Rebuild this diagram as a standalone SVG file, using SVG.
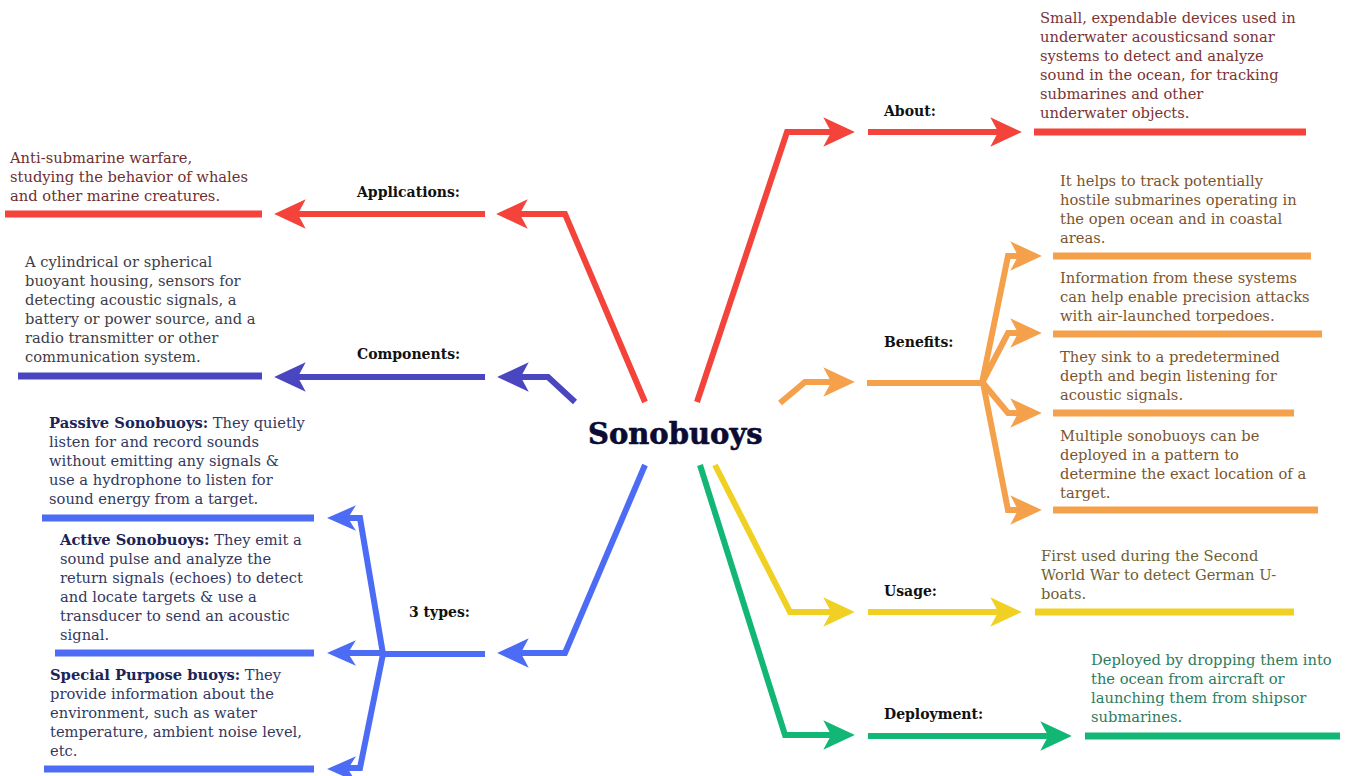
<svg xmlns="http://www.w3.org/2000/svg" xmlns:xlink="http://www.w3.org/1999/xlink" width="1349" height="776" viewBox="0 0 1349 776">
  <style>
    .ln { fill: none; stroke-width: 6; stroke-linejoin: miter; stroke-linecap: butt; }
    .ul { fill: none; stroke-width: 7; }
    .red { stroke: #f4433a; }
    .ind { stroke: #4a46c0; }
    .blu { stroke: #4c6cf6; }
    .org { stroke: #f5a04b; }
    .yel { stroke: #f0d123; }
    .grn { stroke: #12b775; }
    .lbl { font-family: "DejaVu Serif", "Liberation Serif", serif; font-weight: bold; font-size: 14px; fill: #111; }
    .txt { font-family: "DejaVu Serif", "Liberation Serif", serif; font-size: 14.7px; }
    .title { font-family: "DejaVu Serif", "Liberation Serif", serif; font-weight: bold; font-size: 29px; fill: #0c0c33; stroke: #0c0c33; stroke-width: 0.6; }
    .b { font-weight: bold; fill: #1c2456; }
    .hd { stroke-width: 1.5; stroke-linejoin: miter; }
  </style>
  <defs>
    <!-- barbed arrowhead, tip at origin, pointing right -->
    <path id="ah" d="M0,0 L-28,-13 L-21,0 L-28,13 Z"/>
    <path id="ahs" d="M0,0 L-25,-11 L-18,0 L-25,11 Z"/>
  </defs>

  <g id="connectors">
    <!-- About (red) -->
    <path class="ln red" d="M697,402 L787,132 L836,132"/>
    <use xlink:href="#ah" class="hd red" fill="#f4433a" transform="translate(853,132)"/>
    <path class="ln red" d="M868,132 L1000,132"/>
    <use xlink:href="#ah" class="hd red" fill="#f4433a" transform="translate(1020,132)"/>
    <path class="ul red" d="M1034,132 L1306,132"/>

    <!-- Applications (red) -->
    <path class="ln red" d="M645,402 L565,214 L514,214"/>
    <use xlink:href="#ah" class="hd red" fill="#f4433a" transform="translate(498,214) scale(-1,1)"/>
    <path class="ln red" d="M485,214 L294,214"/>
    <use xlink:href="#ah" class="hd red" fill="#f4433a" transform="translate(276,214) scale(-1,1)"/>
    <path class="ul red" d="M5,214 L262,214"/>

    <!-- Components (indigo) -->
    <path class="ln ind" d="M575,402 L548,377 L514,377"/>
    <use xlink:href="#ah" class="hd ind" fill="#4a46c0" transform="translate(499,377) scale(-1,1)"/>
    <path class="ln ind" d="M485,377 L294,377"/>
    <use xlink:href="#ah" class="hd ind" fill="#4a46c0" transform="translate(276,377) scale(-1,1)"/>
    <path class="ul ind" d="M18,376 L262,376"/>

    <!-- 3 types (blue) -->
    <path class="ln blu" d="M645,465 L565,653 L516,653"/>
    <use xlink:href="#ah" class="hd blu" fill="#4c6cf6" transform="translate(499,653) scale(-1,1)"/>
    <path class="ln blu" d="M485,654 L383,654"/>
    <path class="ln blu" d="M383,654 L360,518 L346,518"/>
    <use xlink:href="#ahs" class="hd blu" fill="#4c6cf6" transform="translate(329,518) scale(-1,1)"/>
    <path class="ln blu" d="M383,653 L346,653"/>
    <use xlink:href="#ahs" class="hd blu" fill="#4c6cf6" transform="translate(329,653) scale(-1,1)"/>
    <path class="ln blu" d="M383,654 L360,768 L346,768"/>
    <use xlink:href="#ahs" class="hd blu" fill="#4c6cf6" transform="translate(329,769) scale(-1,1)"/>
    <path class="ul blu" d="M42,518 L314,518"/>
    <path class="ul blu" d="M55,653 L314,653"/>
    <path class="ul blu" d="M44,769 L314,769"/>

    <!-- Benefits (orange) -->
    <path class="ln org" d="M780,403 L805,382 L836,382"/>
    <use xlink:href="#ah" class="hd org" fill="#f5a04b" transform="translate(853,382)"/>
    <path class="ln org" d="M867,383 L983,383"/>
    <path class="ln org" d="M982,383 L1008,256 L1024,256"/>
    <use xlink:href="#ah" class="hd org" fill="#f5a04b" transform="translate(1040,256)"/>
    <path class="ln org" d="M983,381 L1008,333 L1024,333"/>
    <use xlink:href="#ah" class="hd org" fill="#f5a04b" transform="translate(1040,333)"/>
    <path class="ln org" d="M983,383 L1008,413 L1024,413"/>
    <use xlink:href="#ah" class="hd org" fill="#f5a04b" transform="translate(1040,413)"/>
    <path class="ln org" d="M983,383 L1008,510 L1024,510"/>
    <use xlink:href="#ah" class="hd org" fill="#f5a04b" transform="translate(1040,510)"/>
    <path class="ul org" d="M1053,256 L1311,256"/>
    <path class="ul org" d="M1053,334 L1322,334"/>
    <path class="ul org" d="M1053,413 L1294,413"/>
    <path class="ul org" d="M1053,510 L1318,510"/>

    <!-- Usage (yellow) -->
    <path class="ln yel" d="M715,465 L790,612 L836,612"/>
    <use xlink:href="#ah" class="hd yel" fill="#f0d123" transform="translate(853,612)"/>
    <path class="ln yel" d="M868,612 L1000,612"/>
    <use xlink:href="#ah" class="hd yel" fill="#f0d123" transform="translate(1020,612)"/>
    <path class="ul yel" d="M1035,612 L1294,612"/>

    <!-- Deployment (green) -->
    <path class="ln grn" d="M700,465 L785,735 L836,735"/>
    <use xlink:href="#ah" class="hd grn" fill="#12b775" transform="translate(853,735)"/>
    <path class="ln grn" d="M868,736 L1052,736"/>
    <use xlink:href="#ah" class="hd grn" fill="#12b775" transform="translate(1070,736)"/>
    <path class="ul grn" d="M1085,736 L1340,736"/>
  </g>

  <g id="title">
    <text class="title" x="588" y="444">Sonobuoys</text>
  </g>

  <g id="about">
    <text class="lbl" x="884" y="116">About:</text>
    <text class="txt" fill="#7a3434">
      <tspan x="1040" y="23">Small, expendable devices used in</tspan>
      <tspan x="1040" y="42">underwater acousticsand sonar</tspan>
      <tspan x="1040" y="61">systems to detect and analyze</tspan>
      <tspan x="1040" y="80">sound in the ocean, for tracking</tspan>
      <tspan x="1040" y="99">submarines and other</tspan>
      <tspan x="1040" y="118">underwater objects.</tspan>
    </text>
  </g>

  <g id="applications">
    <text class="lbl" x="357" y="197">Applications:</text>
    <text class="txt" fill="#6e2f2f">
      <tspan x="10" y="163">Anti-submarine warfare,</tspan>
      <tspan x="10" y="182">studying the behavior of whales</tspan>
      <tspan x="10" y="201">and other marine creatures.</tspan>
    </text>
  </g>

  <g id="components">
    <text class="lbl" x="357" y="359">Components:</text>
    <text class="txt" fill="#3d3d48">
      <tspan x="25" y="267">A cylindrical or spherical</tspan>
      <tspan x="25" y="286">buoyant housing, sensors for</tspan>
      <tspan x="25" y="305">detecting acoustic signals, a</tspan>
      <tspan x="25" y="324">battery or power source, and a</tspan>
      <tspan x="25" y="343">radio transmitter or other</tspan>
      <tspan x="25" y="362">communication system.</tspan>
    </text>
  </g>

  <g id="types">
    <text class="lbl" x="409" y="617">3 types:</text>
    <text class="txt" fill="#33385e">
      <tspan x="49" y="428"><tspan class="b">Passive Sonobuoys:</tspan> They quietly</tspan>
      <tspan x="49" y="447">listen for and record sounds</tspan>
      <tspan x="49" y="466">without emitting any signals &amp;</tspan>
      <tspan x="49" y="485">use a hydrophone to listen for</tspan>
      <tspan x="49" y="504">sound energy from a target.</tspan>
    </text>
    <text class="txt" fill="#33385e">
      <tspan x="60" y="545"><tspan class="b">Active Sonobuoys:</tspan> They emit a</tspan>
      <tspan x="60" y="564">sound pulse and analyze the</tspan>
      <tspan x="60" y="583">return signals (echoes) to detect</tspan>
      <tspan x="60" y="602">and locate targets &amp; use a</tspan>
      <tspan x="60" y="621">transducer to send an acoustic</tspan>
      <tspan x="60" y="640">signal.</tspan>
    </text>
    <text class="txt" fill="#33385e">
      <tspan x="50" y="680"><tspan class="b">Special Purpose buoys:</tspan> They</tspan>
      <tspan x="50" y="699">provide information about the</tspan>
      <tspan x="50" y="718">environment, such as water</tspan>
      <tspan x="50" y="737">temperature, ambient noise level,</tspan>
      <tspan x="50" y="756">etc.</tspan>
    </text>
  </g>

  <g id="benefits">
    <text class="lbl" x="884" y="347">Benefits:</text>
    <text class="txt" fill="#7a5530">
      <tspan x="1060" y="186">It helps to track potentially</tspan>
      <tspan x="1060" y="205">hostile submarines operating in</tspan>
      <tspan x="1060" y="224">the open ocean and in coastal</tspan>
      <tspan x="1060" y="243">areas.</tspan>
    </text>
    <text class="txt" fill="#7a5530">
      <tspan x="1060" y="283">Information from these systems</tspan>
      <tspan x="1060" y="302">can help enable precision attacks</tspan>
      <tspan x="1060" y="321">with air-launched torpedoes.</tspan>
    </text>
    <text class="txt" fill="#7a5530">
      <tspan x="1060" y="362">They sink to a predetermined</tspan>
      <tspan x="1060" y="381">depth and begin listening for</tspan>
      <tspan x="1060" y="400">acoustic signals.</tspan>
    </text>
    <text class="txt" fill="#7a5530">
      <tspan x="1060" y="441">Multiple sonobuoys can be</tspan>
      <tspan x="1060" y="460">deployed in a pattern to</tspan>
      <tspan x="1060" y="479">determine the exact location of a</tspan>
      <tspan x="1060" y="498">target.</tspan>
    </text>
  </g>

  <g id="usage">
    <text class="lbl" x="884" y="596">Usage:</text>
    <text class="txt" fill="#6e612f">
      <tspan x="1041" y="561">First used during the Second</tspan>
      <tspan x="1041" y="580">World War to detect German U-</tspan>
      <tspan x="1041" y="599">boats.</tspan>
    </text>
  </g>

  <g id="deployment">
    <text class="lbl" x="884" y="719">Deployment:</text>
    <text class="txt" fill="#2d7c60">
      <tspan x="1091" y="665">Deployed by dropping them into</tspan>
      <tspan x="1091" y="684">the ocean from aircraft or</tspan>
      <tspan x="1091" y="703">launching them from shipsor</tspan>
      <tspan x="1091" y="722">submarines.</tspan>
    </text>
  </g>
</svg>
